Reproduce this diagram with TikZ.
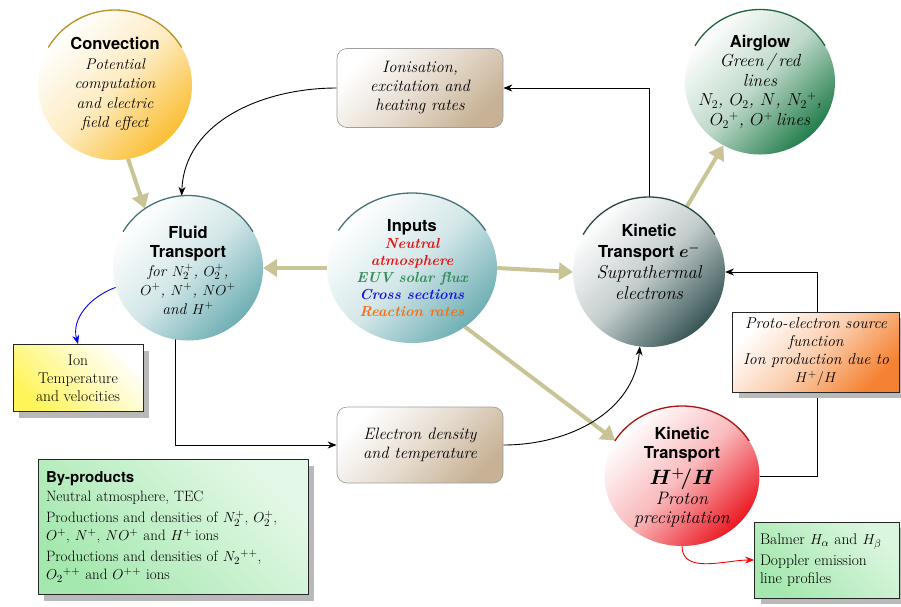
\documentclass[tikz,border=0pt]{standalone}
\usepackage{fontspec}
\newfontfamily\hv{TeX Gyre Heros}
\usetikzlibrary{shapes.geometric,arrows.meta,shadows,calc}
\pgfdeclarelayer{bg}
\pgfsetlayers{bg,main}
\definecolor{convC}{RGB}{250,190,50}
\definecolor{convA}{RGB}{185,145,30}
\definecolor{fluC}{RGB}{110,175,180}
\definecolor{fluA}{RGB}{70,115,120}
\definecolor{keC}{RGB}{55,85,85}
\definecolor{keA}{RGB}{40,70,70}
\definecolor{airC}{RGB}{35,125,75}
\definecolor{airA}{RGB}{30,100,60}
\definecolor{khC}{RGB}{235,25,35}
\definecolor{khA}{RGB}{170,20,20}
\definecolor{tanC}{RGB}{200,196,150}
\definecolor{boxC}{RGB}{200,178,150}
\definecolor{ionY}{RGB}{255,245,90}
\definecolor{proO}{RGB}{245,130,50}
\definecolor{grnC}{RGB}{165,232,175}
\definecolor{inRed}{RGB}{230,20,20}
\definecolor{inGreen}{RGB}{50,140,90}
\definecolor{inBlue}{RGB}{20,20,220}
\definecolor{inOrange}{RGB}{245,110,20}
\newcommand\myttl{\normalfont\hv\bfseries\fontsize{16.5}{20}\selectfont}
\newcommand\myit[2]{\normalfont\itshape\fontsize{#1}{#2}\selectfont}
\newcommand\mybi{\normalfont\bfseries\itshape\fontsize{14.5}{17}\selectfont}
\newcommand\myHH{{\fontsize{20}{22}\selectfont\boldmath$H^{+}\!/H$}}
\begin{document}
\begin{tikzpicture}[x=1pt,y=1pt,
  bub/.style={ellipse, inner sep=0pt, outer sep=0pt, top color=white, bottom color=#1, middle color=#1!30, shading angle=45},
  txt/.style={align=center, inner sep=0pt},
  rbox/.style={rectangle, rounded corners=10pt, draw=gray!75, line width=0.7pt, top color=white, bottom color=boxC, middle color=boxC!45, shading angle=45, align=center, inner sep=2pt, font=\myit{16.5}{19}},
  sbox/.style={rectangle, draw=gray!30!black, line width=0.8pt, drop shadow={shadow xshift=6pt, shadow yshift=-6pt, fill=gray!55, opacity=1}, inner sep=3pt},
  tanarr/.style={line width=4pt, draw=tanC, -{Triangle[length=14pt, width=17pt]}},
  blk/.style={line width=0.9pt, -{Stealth[length=9pt, width=7pt]}},
  toparc/.style={line width=1.3pt}
]
\useasboundingbox (0,0) rectangle (901,-606);

% circles
\node[bub=convC, minimum width=154, minimum height=150] (conv) at (115,-85) {};
\draw[convA, toparc] (conv.center) ++(150:77 and 75) arc[start angle=150, end angle=30, x radius=77, y radius=75];
\node[txt, font=\myit{15.5}{19.5}] (convt) at (115,-84) {\myttl Convection\\ Potential\\ computation\\ and electric\\ field effect};

\node[bub=fluC, minimum width=150, minimum height=145] (fl) at (188,-268) {};
\draw[fluA, toparc] (fl.center) ++(150:75 and 72.5) arc[start angle=150, end angle=30, x radius=75, y radius=72.5];
\node[txt, font=\myit{15.5}{19}] (flt) at (188,-270) {\myttl Fluid\\ \myttl Transport\\ for $N_2^+$, $O_2^+$,\\ $O^+$, $N^+$, $NO^+$\\ and $H^+$};

\node[bub=fluC, minimum width=170, minimum height=150] (inp) at (412,-268) {};
\draw[fluA, toparc] (inp.center) ++(150:85 and 75) arc[start angle=150, end angle=30, x radius=85, y radius=75];
\node[txt, font=\mybi] (inpt) at (412,-268) {\myttl Inputs\\ \color{inRed}Neutral\\ \color{inRed}atmosphere\\ \color{inGreen}EUV solar flux\\ \color{inBlue}Cross sections\\ \color{inOrange}Reaction rates};

\node[bub=keC, minimum width=152, minimum height=150] (ke) at (649,-272) {};
\draw[keA, toparc] (ke.center) ++(150:76 and 75) arc[start angle=150, end angle=30, x radius=76, y radius=75];
\node[txt, font=\myit{18.5}{21}] (ket) at (649,-262) {\myttl Kinetic\\ \myttl Transport {\normalfont\fontsize{17}{20}\selectfont\boldmath$e^-$}\\ Suprathermal\\ electrons};

\node[bub=airC, minimum width=150, minimum height=145] (air) at (760,-82) {};
\draw[airA, toparc] (air.center) ++(150:75 and 72.5) arc[start angle=150, end angle=30, x radius=75, y radius=72.5];
\node[txt, font=\myit{17.5}{19.5}] (airt) at (760,-82) {\myttl Airglow\\ Green\,/\,red\\ lines\\ $N_2$, $O_2$, $N$, $N_2{}^+$,\\ $O_2{}^+$, $O^+$\,lines};

\node[bub=khC, minimum width=155, minimum height=140] (kh) at (682,-476) {};
\draw[khA, toparc] (kh.center) ++(150:77.5 and 70) arc[start angle=150, end angle=30, x radius=77.5, y radius=70];
\node[txt, font=\myit{18}{19.5}] (kht) at (682,-477) {\myttl Kinetic\\ \myttl Transport\\[5pt] \myHH\\ Proton\\ precipitation};

% rounded boxes
\node[rbox, minimum width=166, minimum height=79] (ion) at (420,-88) {Ionisation,\\ excitation and\\ heating rates};
\node[rbox, minimum width=166, minimum height=76] (el) at (420,-445) {Electron density\\ and temperature};

% shadowed boxes
\node[sbox, top color=white, bottom color=ionY, shading angle=-45, minimum width=130, minimum height=67, align=center,
  font=\fontsize{15.5}{18}\selectfont] (itb) at (78,-378) {Ion\\ Temperature\\ and velocities};
\node[sbox, top color=white, bottom color=proO, middle color=proO!40, shading angle=45, minimum width=167, minimum height=80, align=center,
  font=\myit{15.8}{18}] (pro) at (816,-352) {Proto-electron source\\ function\\ Ion production due to\\ $H^{+}/H$};
\node[sbox, top color=grnC!30, bottom color=grnC, shading angle=-45, minimum width=270, minimum height=135, text width=254, align=left,
  font=\fontsize{15}{18}\selectfont] (byp) at (173,-527) {{\hv\bfseries\fontsize{15}{18}\selectfont By-products}\\[1pt]
  Neutral atmosphere, TEC\\[3pt]
  Productions and densities of $N_2^+$, $O_2^+$,\\ $O^+$, $N^+$, $NO^+$ and $H^+$\,ions\\[3pt]
  Productions and densities of $N_2{}^{++}$,\\ $O_2{}^{++}$ and $O^{++}$ ions};
\node[sbox, top color=grnC!40, bottom color=grnC, shading angle=-45, minimum width=145, minimum height=76, text width=134, align=left,
  font=\fontsize{15.5}{18}\selectfont] (bal) at (827,-560) {Balmer $H_\alpha$ and $H_\beta$\\[3pt] Doppler emission\\ line profiles};

% connectors
\begin{pgfonlayer}{bg}
\draw[tanarr] (conv.-80) -- (fl.126);
\draw[tanarr] (inp.west) -- (fl.east);
\draw[tanarr] (inp.east) -- (ke.west);
\draw[tanarr] (inp.-48) -- (kh.152);
\draw[tanarr] (ke.60) -- (air.240);
\draw[blk] (ion.west) to[out=180, in=88] (fl.95);
\draw[blk] (ke.north) |- (ion.east);
\draw[blk] (fl.-100) |- (el.west);
\draw[blk] (el.east) to[out=0, in=-95] (ke.-97);
\draw[blk] (kh.east) -- ++(58,0) |- (ke.east);
\draw[blue, line width=0.9pt, -{Stealth[length=9pt, width=7pt]}] (fl.195) to[out=200, in=105] (itb.north);
\draw[red, line width=0.9pt, -{Stealth[length=9pt, width=7pt]}] (kh.south) to[out=-90, in=180] (bal.west);
\end{pgfonlayer}
\end{tikzpicture}
\end{document}
